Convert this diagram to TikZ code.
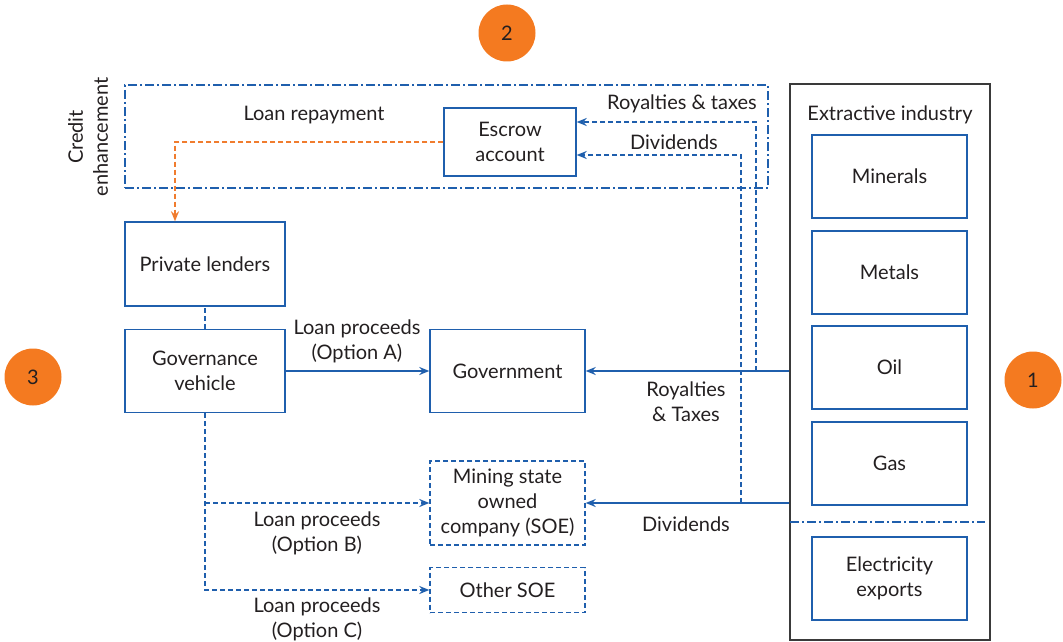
\documentclass[tikz,border=0pt]{standalone}
\usepackage{fontspec}
\setmainfont{Lato}
\usetikzlibrary{arrows.meta,calc}
\definecolor{cblue}{HTML}{1F5FAD}
\definecolor{corange}{HTML}{F07C2E}
\definecolor{ccircle}{HTML}{F47A20}
\definecolor{ctext}{HTML}{231F20}
\definecolor{cgray}{HTML}{3A3A3A}
\tikzset{
  every node/.style={text=ctext, font=\fontsize{20}{25}\selectfont, align=center},
  blbox/.style={draw=cblue, line width=1.4pt, rectangle, inner sep=0pt},
  dbox/.style={blbox, dash pattern=on 5pt off 3pt},
  flow/.style={draw=cblue, line width=1.5pt, -{Stealth[length=10pt,width=8pt]}},
  dflow/.style={flow, dash pattern=on 5pt off 3pt},
  oflow/.style={draw=corange, line width=1.5pt, dash pattern=on 5pt off 3pt, -{Stealth[length=10pt,width=8pt]}},
  dashdot/.style={draw=cblue, line width=1.4pt, dash pattern=on 9pt off 3pt on 2pt off 3pt},
  numcirc/.style={circle, fill=ccircle, minimum size=57pt, inner sep=0pt},
  lbl/.style={inner sep=1pt},
}
\begin{document}
\begin{tikzpicture}[x=1pt,y=-1pt]
\useasboundingbox (0,0) rectangle (1063,642);
% credit enhancement frame
\node[dashdot, rectangle, minimum width=643pt, minimum height=103pt] (ce) at (446.5,136.5) {};
\node[lbl, rotate=90] (celbl) at (88,137) {Credit\\enhancement};
% boxes
\node[blbox, minimum width=132pt, minimum height=68pt] (esc) at (510,142) {Escrow\\account};
\node[blbox, minimum width=160pt, minimum height=84pt] (pl) at (205,264) {Private lenders};
\node[blbox, minimum width=160pt, minimum height=83pt] (gv) at (205,371) {Governance\\vehicle};
\node[blbox, minimum width=155pt, minimum height=83pt] (gov) at (507.5,371) {Government};
\node[dbox, minimum width=155pt, minimum height=84pt] (soe) at (507.5,503) {Mining state\\owned\\company (SOE)};
\node[dbox, minimum width=155pt, minimum height=45pt] (oth) at (507.5,590) {Other SOE};
% extractive industry
\node[draw=cgray, line width=1.4pt, rectangle, minimum width=200pt, minimum height=556pt] (ext) at (890,362) {};
\node[lbl] (extlbl) at (890,115) {Extractive industry};
\node[blbox, minimum width=155pt, minimum height=83pt] (min) at (889.5,176.5) {Minerals};
\node[blbox, minimum width=155pt, minimum height=83pt] (met) at (889.5,272.5) {Metals};
\node[blbox, minimum width=155pt, minimum height=83pt] (oil) at (889.5,367.5) {Oil};
\node[blbox, minimum width=155pt, minimum height=83pt] (gas) at (889.5,463.5) {Gas};
\node[blbox, minimum width=155pt, minimum height=83pt] (ele) at (889.5,578.5) {Electricity\\exports};
\coordinate (sepL) at (790,522);
\coordinate (sepR) at (985,522);
\draw[dashdot] (sepL) -- (sepR);
% circles
\node[numcirc] (c1) at (1033,380) {1};
\node[numcirc] (c2) at (507,33) {2};
\node[numcirc] (c3) at (33,377) {3};
% flows from industry
\draw[flow] (ext.west |- gov.east) -- (gov.east);
\draw[flow] (ext.west |- soe.east) -- (soe.east);
\coordinate (r1) at (756,371);
\coordinate (r2) at (741,503);
\draw[dflow] (r1) |- ([yshift=20pt]esc.east);
\draw[dflow] (r2) |- ([yshift=-13pt]esc.east);
% loan repayment
\draw[oflow] (esc.west) -| ([xshift=-30pt]pl.north);
% governance vehicle
\draw[draw=cblue, line width=1.5pt, dash pattern=on 5pt off 3pt] (gv.north) -- (pl.south);
\draw[flow] (gv.east) -- (gov.west);
\draw[dflow] (gv.south) |- (oth.west);
\coordinate (br) at (gv.south |- soe.west);
\draw[dflow] (br) -- (soe.west);
% labels
\node[lbl] (l1) at (314,115) {Loan repayment};
\node[lbl] (l2) at (682,104) {Royalties \& taxes};
\node[lbl] (l3) at (674,142) {Dividends};
\node[lbl] (l4) at (357,341) {Loan proceeds\\(Option A)};
\node[lbl] (l5) at (686,402) {Royalties\\\& Taxes};
\node[lbl] (l6) at (686,524) {Dividends};
\node[lbl] (l7) at (317,533) {Loan proceeds\\(Option B)};
\node[lbl] (l8) at (317,619) {Loan proceeds\\(Option C)};
\end{tikzpicture}
\end{document}
